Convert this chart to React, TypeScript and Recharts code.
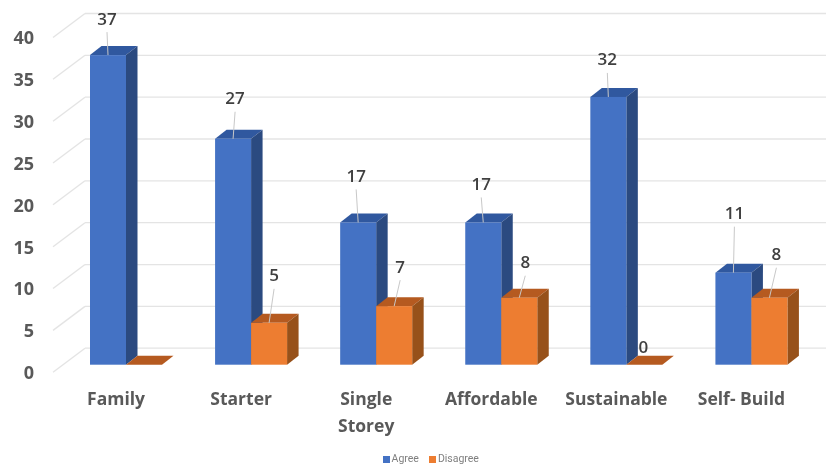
import React from "react";
import { BarChart, Bar, XAxis, YAxis, Legend, LabelList, CartesianGrid } from "recharts";

const categories = ["Family", "Starter", "Single Storey", "Affordable", "Sustainable", "Self- Build"];
const agreeValues = [37, 27, 17, 17, 32, 11];
const disagreeValues = [0, 5, 7, 8, 0, 8];
const yTicks = [0, 5, 10, 15, 20, 25, 30, 35, 40];

const rows = categories.map((name, i) => ({ name, Agree: agreeValues[i], Disagree: disagreeValues[i] }));

// Hand-placed data label offsets from the centre of each bar's top edge (null: the label is not shown)
const agreeLabelNudge = [[-1, -36], [2, -40], [-2, -46], [-2, -38], [-1, -37], [1, -59]];
const disagreeLabelNudge = [null, [5, -47], [6, -39], [6, -35], [-1, -17], [7, -43]];

const DEPTH_X = 11.5;
const DEPTH_Y = 9;
const FONT = "'Open Sans', sans-serif";

const Box3D = (front: string, top: string, side: string) => (p: any) => {
  const { x, y, width: w, height: h } = p;
  const dx = DEPTH_X;
  const dy = DEPTH_Y;
  return (
    <g>
      <polygon points={`${x},${y} ${x + dx},${y - dy} ${x + w + dx},${y - dy} ${x + w},${y}`} fill={top} />
      <polygon points={`${x + w},${y} ${x + w + dx},${y - dy} ${x + w + dx},${y + h - dy} ${x + w},${y + h}`} fill={side} />
      <rect x={x} y={y} width={w} height={h} fill={front} />
    </g>
  );
};

const wallLine = (p: any) => {
  const y = p.y1;
  return (
    <g key={`wall-${y}`}>
      <line x1={53} y1={y + 7.5} x2={85} y2={y - 16.5} stroke="#e4e4e4" strokeWidth={1.3} />
      <line x1={85} y1={y - 16.5} x2={826} y2={y - 16.5} stroke="#e4e4e4" strokeWidth={1.3} />
    </g>
  );
};

const YTick = (p: any) => {
  const { y, payload } = p;
  return (
    <text x={34} y={y + 9.5} textAnchor="end" dominantBaseline="middle" fontFamily={FONT} fontWeight={700} fontSize={18} fill="#595959">
      {payload.value}
    </text>
  );
};

const XTick = (p: any) => {
  const { x, payload } = p;
  const label = String(payload.value);
  const lines = label.length > 11 ? label.split(" ") : [label];
  return (
    <g>
      {lines.map((t, i) => (
        <text key={t} x={x - 9.5} y={400 + i * 27} textAnchor="middle" dominantBaseline="middle" fontFamily={FONT} fontWeight={700} fontSize={17.5} fill="#595959">
          {t}
        </text>
      ))}
    </g>
  );
};

const DataLabel = (nudges: (number[] | null)[]) => (p: any) => {
  const { x, y, width, value, index } = p;
  const nudge = nudges[index];
  if (!nudge) return null;
  const cx = x + width / 2;
  const [dx, dy] = nudge;
  return (
    <g>
      {value > 0 && <line x1={cx} y1={y} x2={cx + dx} y2={y + dy + 13} stroke="#c8c8c8" strokeWidth={1} />}
      <text x={cx + dx} y={y + dy + 1} textAnchor="middle" dominantBaseline="middle" fontFamily={FONT} fontWeight={600} fontSize={17} fill="#404040">
        {value}
      </text>
    </g>
  );
};

export default function App() {
  return (
    <div style={{ position: "absolute", left: 0, top: 0, width: 826, height: 468, background: "#fff", filter: "blur(0.5px)" }}>
      <BarChart width={826} height={468} data={rows} barSize={36} barGap={0} margin={{ top: 30, right: 12.5, bottom: 0, left: 0 }}>
        <CartesianGrid vertical={false} horizontal={wallLine} />
        <YAxis width={63} domain={[0, 40]} ticks={yTicks} interval={0} axisLine={false} tickLine={false} tick={<YTick />} />
        <XAxis dataKey="name" height={83.3} interval={0} axisLine={false} tickLine={false} tick={<XTick />} />
        <Legend
          height={20}
          iconType="square"
          iconSize={7}
          wrapperStyle={{ fontFamily: "Roboto, sans-serif", fontSize: 10.5, left: 29, top: 452 }}
          formatter={(v: string) => <span style={{ color: "#7f7f7f", marginLeft: -2 }}>{v}</span>}
        />
        <Bar dataKey="Agree" fill="#4472C4" isAnimationActive={false} shape={Box3D("#4472C4", "#30589f", "#2b4a80")}>
          <LabelList dataKey="Agree" content={DataLabel(agreeLabelNudge)} />
        </Bar>
        <Bar dataKey="Disagree" fill="#ED7D31" isAnimationActive={false} shape={Box3D("#ED7D31", "#b55a20", "#97511a")}>
          <LabelList dataKey="Disagree" content={DataLabel(disagreeLabelNudge)} />
        </Bar>
      </BarChart>
    </div>
  );
}
